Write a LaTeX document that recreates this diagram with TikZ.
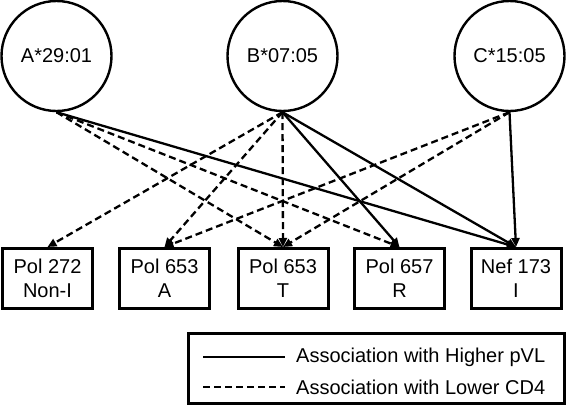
\documentclass[tikz,border=0pt]{standalone}
\usepackage{fontspec}
\setmainfont{Liberation Sans}
\usetikzlibrary{arrows.meta}
\begin{document}
\begin{tikzpicture}[x=1pt,y=-1pt,
  every node/.style={font=\fontsize{20}{24}\selectfont},
  hla/.style={circle,draw,line width=2.4pt,minimum size=110pt,inner sep=0pt},
  site/.style={rectangle,draw,line width=3pt,minimum width=90pt,minimum height=60pt,align=center,inner sep=0pt},
  conn/.style={line width=2.3pt,-{Triangle[length=9pt,width=8pt]}},
  lowcd/.style={conn,dash pattern=on 7pt off 4pt},
  legbox/.style={rectangle,draw,line width=3pt,minimum width=376pt,minimum height=70pt,inner sep=0pt},
  legtext/.style={anchor=west,inner sep=0pt}]
\useasboundingbox (0,0) rectangle (566,408);
\node[hla] (A) at (56.5,56) {A*29:01};
\node[hla] (B) at (282.5,56) {B*07:05};
\node[hla] (C) at (509.5,56) {C*15:05};
\node[site] (P1) at (47.5,278.5) {Pol 272\\Non-I};
\node[site] (P2) at (164.5,278.5) {Pol 653\\A};
\node[site] (P3) at (283,278.5) {Pol 653\\T};
\node[site] (P4) at (399.5,278.5) {Pol 657\\R};
\node[site] (P5) at (516,278.5) {Nef 173\\I};
% A
\draw[lowcd] (A.south) -- (P3.north);
\draw[lowcd] (A.south) -- (P4.north);
\draw[conn] (A.south) -- (P5.north);
% B
\draw[lowcd] (B.south) -- (P1.north);
\draw[lowcd] (B.south) -- (P2.north);
\draw[lowcd] (B.south) -- (P3.north);
\draw[conn] (B.south) -- (P4.north);
\draw[conn] (B.south) -- (P5.north);
% C
\draw[lowcd] (C.south) -- (P2.north);
\draw[lowcd] (C.south) -- (P3.north);
\draw[conn] (C.south) -- (P5.north);
% legend
\node[legbox] (L) at (376.5,368.5) {};
\coordinate (s1) at (203,357);
\coordinate (e1) at (285,357);
\coordinate (s2) at (203,387);
\coordinate (e2) at (285,387);
\draw[line width=2.3pt] (s1) -- (e1);
\draw[line width=2.3pt,dash pattern=on 7pt off 4pt] (s2) -- (e2);
\node[legtext] (t1) at (296,357) {Association with Higher pVL};
\node[legtext] (t2) at (296,387) {Association with Lower CD4};
\end{tikzpicture}
\end{document}
